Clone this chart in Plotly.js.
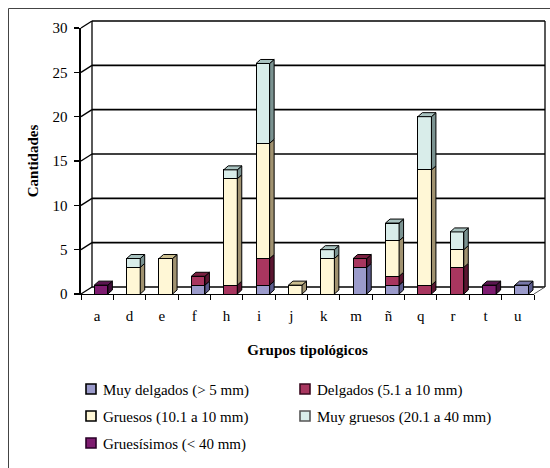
<!DOCTYPE html>
<html>
<head>
<meta charset="utf-8">
<script src="https://cdn.plot.ly/plotly-3.0.1.min.js"></script>
<style>html,body{margin:0;padding:0;background:#fff;}#chart{width:550px;height:468px;}</style>
</head>
<body>
<div id="chart"></div>
<script>
// ---- data ----
var categories = ["a","d","e","f","h","i","j","k","m","ñ","q","r","t","u"];
var muyDelgados = [0,0,0,1,0,1,0,0,3,1,0,0,0,1];
var delgados    = [0,0,0,1,1,3,0,0,1,1,1,3,0,0];
var gruesos     = [0,3,4,0,12,13,1,4,0,4,13,2,0,0];
var muyGruesos  = [0,1,0,0,1,9,0,1,0,2,6,2,0,0];
var gruesisimos = [1,0,0,0,0,0,0,0,0,0,0,0,1,0];
var seriesNames = ["Muy delgados (> 5 mm)","Delgados (5.1 a 10 mm)","Gruesos (10.1 a 10 mm)","Muy gruesos (20.1 a 40 mm)","Gruesísimos (< 40 mm)"];
var yTicks = [0,5,10,15,20,25,30];

// ---- styles ----
var series = [muyDelgados, delgados, gruesos, muyGruesos, gruesisimos];
var frontCol = ["#9b9bcb","#a8365f","#fff7d6","#d9edea","#7e1c70"];
var sideCol  = ["#5c5c8e","#5a1530","#a09270","#7a9290","#3f0e38"];
var topCol   = ["#7878aa","#7a2040","#cbbe90","#a9c3c0","#5a1550"];
var font = "Liberation Serif";

var W = 550, H = 468;
var L = 81, R = 16, T = 28, B = 174;
var pw = W - L - R, ph = H - T - B;
var ymax = 30;
var pxX = pw / categories.length, pxY = ph / ymax;
var wallDx = 11, wallDy = 7;
var barW = 0.42, barOff = -0.09;
var bdx = 4.5 / pxX, bdy = 4 / pxY;

function px2paperX(p){ return (p - L) / pw; }
function px2paperY(p){ return (H - B - p) / ph; }

var xs = categories.map(function(c,i){ return i; });
var traces = series.map(function(vals, k){
  return {
    type: "bar", x: xs, y: vals, name: seriesNames[k],
    width: barW, offset: barOff,
    marker: {color: frontCol[k], line: {color: "#000", width: 1}},
    showlegend: false, hoverinfo: "y"
  };
});

var shapes = [];
// back wall, gridlines, side wall diagonals
var wx0 = px2paperX(L + wallDx), wx1 = px2paperX(L + pw + wallDx);
var dyPaper = wallDy / ph, dxPaper = wallDx / pw;
yTicks.forEach(function(v){
  var yp = v / ymax;
  shapes.push({type:"line", xref:"paper", yref:"paper", x0:wx0, x1:wx1, y0:yp+dyPaper, y1:yp+dyPaper, line:{color:"#000", width:1.6}, layer:"below"});
  shapes.push({type:"line", xref:"paper", yref:"paper", x0:0, x1:dxPaper, y0:yp, y1:yp+dyPaper, line:{color:"#000", width:1.3}, layer:"below"});
});
shapes.push({type:"line", xref:"paper", yref:"paper", x0:wx0, x1:wx0, y0:dyPaper, y1:1+dyPaper, line:{color:"#000", width:1.3}, layer:"below"});
shapes.push({type:"line", xref:"paper", yref:"paper", x0:wx1, x1:wx1, y0:dyPaper, y1:1+dyPaper, line:{color:"#000", width:1.3}, layer:"below"});
shapes.push({type:"line", xref:"paper", yref:"paper", x0:1, x1:1+dxPaper, y0:0, y1:dyPaper, line:{color:"#555", width:1}, layer:"below"});
// outer frame
shapes.push({type:"rect", xref:"paper", yref:"paper", x0:px2paperX(8.5), x1:px2paperX(W+20), y0:px2paperY(8.5), y1:px2paperY(H+20), line:{color:"#444", width:1}, layer:"below"});

// 3D faces of bars
for (var i = 0; i < categories.length; i++) {
  var base = 0, topK = -1, topY1 = 0;
  var x0 = i + barOff, x1 = i + barOff + barW;
  for (var k = 0; k < series.length; k++) {
    var v = series[k][i];
    if (v > 0) {
      var y0 = base, y1 = base + v;
      shapes.push({type:"path", xref:"x", yref:"y",
        path:"M"+x1+","+y0+" L"+(x1+bdx)+","+(y0+bdy)+" L"+(x1+bdx)+","+(y1+bdy)+" L"+x1+","+y1+" Z",
        fillcolor: sideCol[k], line:{color:"#000", width:1}, layer:"above"});
      topK = k; topY1 = y1;
      base = y1;
    }
  }
  if (topK >= 0) {
    shapes.push({type:"path", xref:"x", yref:"y",
      path:"M"+x0+","+topY1+" L"+(x0+bdx)+","+(topY1+bdy)+" L"+(x1+bdx)+","+(topY1+bdy)+" L"+x1+","+topY1+" Z",
      fillcolor: topCol[topK], line:{color:"#000", width:1}, layer:"above"});
  }
}

// legend (manual, two columns)
var annotations = [];
var legPos = [[86,390],[300,390],[86,417],[300,417],[86,444]];
var legBorder = ["#000","#3a0a20","#000","#555","#2a0028"];
seriesNames.forEach(function(n, k){
  var bx = legPos[k][0], by = legPos[k][1];
  shapes.push({type:"rect", xref:"paper", yref:"paper",
    x0:px2paperX(bx), x1:px2paperX(bx+10), y0:px2paperY(by-6), y1:px2paperY(by+4),
    fillcolor: frontCol[k], line:{color: legBorder[k], width:1.6}});
  annotations.push({xref:"paper", yref:"paper", x:px2paperX(bx+15), y:px2paperY(by), xanchor:"left", yanchor:"middle",
    text:n, showarrow:false, font:{family:font, size:15, color:"#000"}});
});

var layout = {
  width: W, height: H,
  margin: {l:L, r:R, t:T, b:B},
  paper_bgcolor:"#fff", plot_bgcolor:"rgba(0,0,0,0)",
  barmode: "stack", showlegend: false,
  font: {family: font, size: 15, color:"#000"},
  xaxis: {
    range:[-0.5, categories.length-0.5], tickvals: xs, ticktext: categories,
    ticks:"", showgrid:false, zeroline:false, showline:true, linecolor:"#000", linewidth:1.4,
    tickfont:{family:font, size:15}, ticklabelstandoff: 8,
    title:{text:"<b>Grupos tipológicos</b>", font:{family:font, size:15}, standoff: 21},
    fixedrange:true
  },
  xaxis2: {
    overlaying:"x", anchor:"y", side:"bottom",
    range:[-0.5, categories.length-0.5],
    tickvals: categories.map(function(c,i){ return i-0.5; }).concat([categories.length-0.5]),
    ticks:"outside", ticklen:5, tickcolor:"#000", tickwidth:1,
    showticklabels:false, showgrid:false, zeroline:false, showline:false
  },
  yaxis: {
    range:[0, ymax], tickvals: yTicks, ticks:"outside", ticklen:5, tickcolor:"#000", tickwidth:1.2,
    showgrid:false, zeroline:false, showline:true, linecolor:"#000", linewidth:1.6,
    tickfont:{family:font, size:15}, ticklabelstandoff: 4,
    title:{text:"<b>Cantidades</b>", font:{family:font, size:15}, standoff: 10},
    fixedrange:true
  },
  shapes: shapes,
  annotations: annotations
};
traces.push({type:"scatter", x:[0], y:[0], xaxis:"x2", yaxis:"y", mode:"markers", marker:{opacity:0}, showlegend:false, hoverinfo:"skip"});

Plotly.newPlot("chart", traces, layout, {displayModeBar:false, staticPlot:true});
</script>
</body>
</html>
